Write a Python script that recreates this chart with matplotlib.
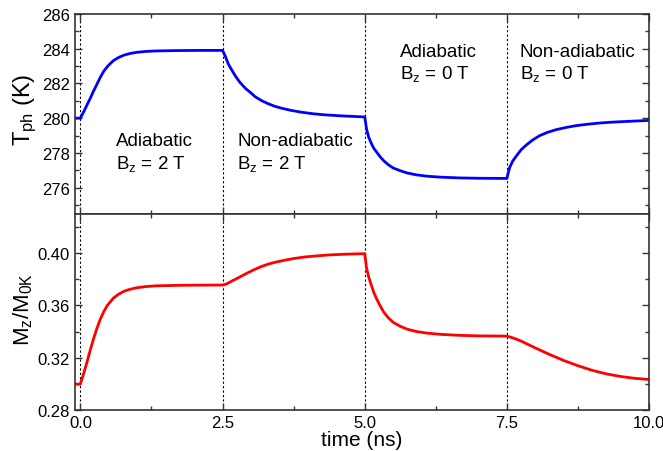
import matplotlib
matplotlib.use("Agg")
import matplotlib.pyplot as plt
from matplotlib.ticker import MultipleLocator, FormatStrFormatter

plt.rcParams['font.family'] = ['Liberation Sans', 'DejaVu Sans']
plt.rcParams['mathtext.fontset'] = 'custom'
plt.rcParams['mathtext.rm'] = 'Liberation Sans'
plt.rcParams['mathtext.it'] = 'Liberation Sans'

# phonon temperature
t_T = [-0.1, 0.0, 0.06, 0.11, 0.17, 0.23, 0.29, 0.35, 0.41, 0.49, 0.58, 0.67, 0.76, 0.87,
       0.99, 1.15, 1.34, 1.7, 2.1, 2.5,
       2.55, 2.60, 2.66, 2.72, 2.80, 2.90, 3.0, 3.07, 3.19, 3.31, 3.42, 3.54, 3.7, 3.89,
       4.1, 4.30, 4.6, 5.0,
       5.015, 5.03, 5.07, 5.12, 5.16, 5.21, 5.27, 5.33, 5.41, 5.50, 5.62, 5.74, 5.9, 6.09,
       6.35, 6.67, 7.0, 7.5,
       7.52, 7.55, 7.6, 7.67, 7.75, 7.85, 7.96, 8.08, 8.22, 8.37, 8.55, 8.72, 8.92, 9.13,
       9.35, 9.60, 9.8, 10.0]
T_ph = [280.0, 280.0, 280.38, 280.72, 281.12, 281.55, 281.95, 282.35, 282.7, 283.03, 283.31,
        283.49, 283.62, 283.72, 283.79, 283.84, 283.87, 283.89, 283.9, 283.9,
        283.55, 283.12, 282.78, 282.45, 282.08, 281.72, 281.45, 281.24, 281.0, 280.82,
        280.68, 280.57, 280.45, 280.34, 280.25, 280.19, 280.13, 280.07,
        279.75, 279.4, 278.9, 278.52, 278.26, 278.04, 277.78, 277.56, 277.33, 277.13,
        276.98, 276.85, 276.74, 276.66, 276.6, 276.56, 276.54, 276.53,
        276.82, 277.17, 277.52, 277.84, 278.18, 278.48, 278.76, 279.0, 279.19, 279.34,
        279.47, 279.57, 279.65, 279.72, 279.77, 279.81, 279.84, 279.87]

# normalised magnetisation
t_M = [-0.1, 0.0, 0.06, 0.115, 0.17, 0.23, 0.29, 0.35, 0.41, 0.47, 0.58, 0.67, 0.76, 0.87,
       0.99, 1.15, 1.34, 1.8, 2.5,
       2.55, 2.60, 2.68, 2.78, 2.87, 2.96, 3.07, 3.19, 3.30, 3.42, 3.6, 3.78, 3.95, 4.13,
       4.35, 4.60, 4.8, 5.0,
       5.015, 5.03, 5.07, 5.12, 5.16, 5.21, 5.27, 5.33, 5.41, 5.50, 5.62, 5.74, 5.9, 6.09,
       6.35, 6.67, 7.0, 7.5,
       7.61, 7.73, 7.85, 8.0, 8.25, 8.5, 8.75, 9.0, 9.25, 9.5, 9.75, 10.0]
M_z = [0.300, 0.300, 0.3085, 0.3166, 0.3255, 0.3344, 0.3425, 0.3496, 0.3552, 0.3598, 0.3656,
       0.3685, 0.3707, 0.3723, 0.3735, 0.3744, 0.375, 0.3754, 0.3756,
       0.3761, 0.3771, 0.3790, 0.3812, 0.3833, 0.3853, 0.3876, 0.3898, 0.3915, 0.3929,
       0.3946, 0.3960, 0.3970, 0.3977, 0.3985, 0.3990, 0.3993, 0.3995,
       0.3945, 0.3890, 0.3815, 0.375, 0.3698, 0.3649, 0.3598, 0.3552, 0.3508, 0.3471,
       0.3442, 0.342, 0.3402, 0.3389, 0.3379, 0.3372, 0.3368, 0.3366,
       0.3352, 0.3332, 0.3307, 0.3276, 0.3226, 0.3180, 0.3140, 0.3105, 0.3078, 0.3058,
       0.3044, 0.3035]

boundaries = [0.0, 2.5, 5.0, 7.5]
x_ticks = [0.0, 2.5, 5.0, 7.5, 10.0]

top_labels = [
    (0.62, 278.45, "Adiabatic", r"$\mathregular{B_z}$ = 2 T"),
    (2.76, 278.45, "Non-adiabatic", r"$\mathregular{B_z}$ = 2 T"),
    (5.62, 283.6, "Adiabatic", r"$\mathregular{B_z}$ = 0 T"),
    (7.73, 283.6, "Non-adiabatic", r"$\mathregular{B_z}$ = 0 T"),
]

fig = plt.figure(figsize=(6.63, 4.52), dpi=100)
ax1 = fig.add_axes([0.1127, 0.525, 0.8663, 0.442])
ax2 = fig.add_axes([0.1127, 0.090, 0.8663, 0.435], sharex=ax1)

ax1.plot(t_T, T_ph, color='#0000ff', lw=2)
ax2.plot(t_M, M_z, color='#ff0000', lw=2)

for ax in (ax1, ax2):
    for b in boundaries:
        ax.axvline(b, color='black', lw=0.8, ls=(0, (2, 2)), zorder=0)
    ax.tick_params(which='both', direction='in', top=True, right=True,
                   labelsize=12, width=1, color='#333333', labelcolor='black')
    ax.tick_params(which='major', length=5)
    ax.tick_params(which='minor', length=3)
    for s in ax.spines.values():
        s.set_linewidth(1.2)
        s.set_color('#333333')

ax1.set_xlim(-0.1, 10.0)
ax1.set_xticks(x_ticks)
ax1.xaxis.set_minor_locator(MultipleLocator(1.25))
ax1.xaxis.set_major_formatter(FormatStrFormatter('%.1f'))
plt.setp(ax1.get_xticklabels(), visible=False)

ax1.set_ylim(274.5, 286)
ax1.set_yticks([276, 278, 280, 282, 284, 286])
ax1.yaxis.set_minor_locator(MultipleLocator(1))
ax1.set_ylabel(r"$\mathregular{T_{ph}}$ (K)", fontsize=17)
ax1.yaxis.set_label_coords(-0.062, 0.525)

ax2.set_ylim(0.28, 0.43)
ax2.set_yticks([0.28, 0.32, 0.36, 0.40])
ax2.yaxis.set_minor_locator(MultipleLocator(0.02))
ax2.yaxis.set_major_formatter(FormatStrFormatter('%.2f'))
ax2.set_ylabel(r"$\mathregular{M_z/M_{0K}}$", fontsize=16)
ax2.yaxis.set_label_coords(-0.07, 0.515)
ax2.set_xlabel("time (ns)", fontsize=15, labelpad=0)

for x, y, line1, line2 in top_labels:
    ax1.text(x, y, line1, fontsize=13.5, ha='left', va='baseline')
    ax1.text(x, y - 1.3, line2, fontsize=13.5, ha='left', va='baseline')

fig.savefig("out.png", dpi=100)
